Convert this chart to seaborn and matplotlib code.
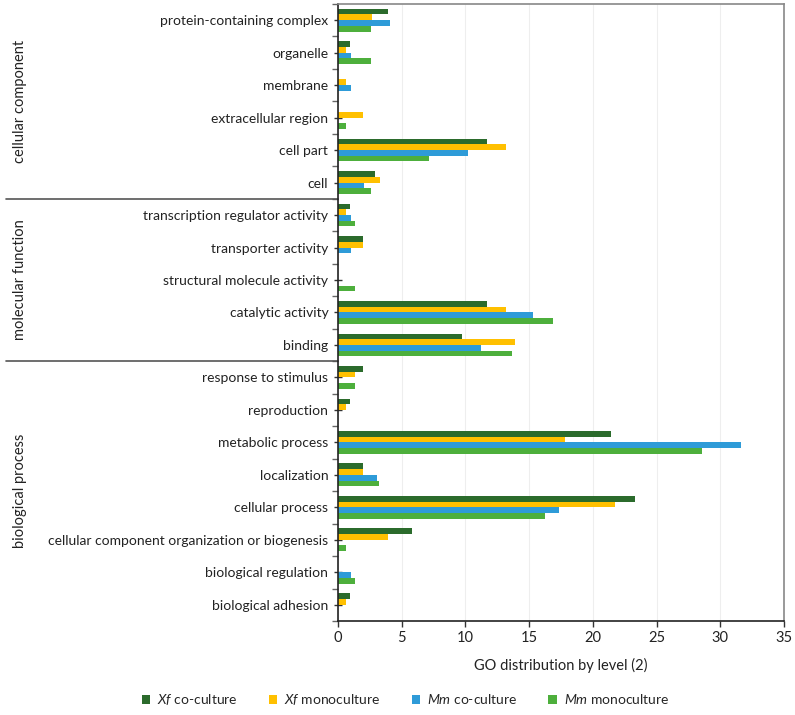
import matplotlib
matplotlib.use("Agg")
import matplotlib.pyplot as plt
import seaborn as sns
import pandas as pd
import numpy as np
from matplotlib.patches import Patch

categories = [
    "protein-containing complex", "organelle", "membrane", "extracellular region",
    "cell part", "cell", "transcription regulator activity", "transporter activity",
    "structural molecule activity", "catalytic activity", "binding",
    "response to stimulus", "reproduction", "metabolic process", "localization",
    "cellular process", "cellular component organization or biogenesis",
    "biological regulation", "biological adhesion",
]
series_names = ["Xf co-culture", "Xf monoculture", "Mm co-culture", "Mm monoculture"]
legend_labels = [r"$\it{Xf}$ co-culture", r"$\it{Xf}$ monoculture",
                 r"$\it{Mm}$ co-culture", r"$\it{Mm}$ monoculture"]

xf_co = [3.90, 0.97, 0.0, 0.0, 11.70, 2.92, 0.97, 1.94, 0.0, 11.70, 9.74,
         1.94, 0.97, 21.40, 1.94, 23.30, 5.83, 0.0, 0.97]
xf_mono = [2.64, 0.66, 0.66, 1.98, 13.20, 3.30, 0.66, 1.98, 0.0, 13.20, 13.86,
           1.32, 0.66, 17.80, 1.98, 21.70, 3.95, 0.0, 0.66]
mm_co = [4.08, 1.02, 1.02, 0.0, 10.20, 2.04, 1.02, 1.02, 0.0, 15.31, 11.22,
         0.0, 0.0, 31.63, 3.06, 17.35, 0.0, 1.02, 0.0]
mm_mono = [2.60, 2.60, 0.0, 0.65, 7.14, 2.60, 1.30, 0.0, 1.30, 16.88, 13.64,
           1.30, 0.0, 28.57, 3.25, 16.23, 0.65, 1.30, 0.0]

groups = ["cellular component", "molecular function", "biological process"]
group_sizes = [6, 5, 8]
x_ticks = [0, 5, 10, 15, 20, 25, 30, 35]
x_label = "GO distribution by level (2)"

colors = ["#2B6B2C", "#FFC000", "#2E9BD8", "#4DAF3C"]

rows = []
for name, vals in zip(series_names, [xf_co, xf_mono, mm_co, mm_mono]):
    for c, v in zip(categories, vals):
        rows.append({"category": c, "series": name, "value": v})
df = pd.DataFrame(rows)

sns.set_theme(style="white")
plt.rcParams["font.family"] = ["Lato", "DejaVu Sans"]
plt.rcParams["mathtext.fontset"] = "custom"
plt.rcParams["mathtext.it"] = "Lato:italic"
plt.rcParams["mathtext.rm"] = "Lato"

FS = 10
fig = plt.figure(figsize=(7.95, 7.15), dpi=100)
ax = fig.add_axes([0.4252, 0.1315, 0.561, 0.863])

sns.barplot(data=df, y="category", x="value", hue="series", order=categories,
            hue_order=series_names, palette=colors, orient="h", width=0.7,
            ax=ax, legend=False, saturation=1, linewidth=0)

ax.set_xlim(0, 35)
ax.set_ylim(len(categories) - 0.5, -0.5)
ax.set_xticks(x_ticks)
ax.set_xticklabels([str(t) for t in x_ticks], fontsize=FS + 0.5, color="#222222")
ax.set_xlabel(x_label, fontsize=FS + 0.5, color="#222222", labelpad=9)
ax.set_ylabel("")
ax.tick_params(axis="y", labelsize=FS, labelcolor="#222222", direction="inout",
               length=6, width=1, color="#333333", pad=4)
ax.tick_params(axis="x", direction="out", length=4, width=1, color="#333333", bottom=True)
ax.set_yticks(np.arange(len(categories) + 1) - 0.5, minor=True)
ax.tick_params(axis="y", which="minor", direction="out", length=4, width=1, color="#666666", left=True)
ax.tick_params(axis="y", which="major", left=True)

ax.grid(axis="x", color="#EEEEEE", linewidth=0.8)
ax.set_axisbelow(True)
for side in ["left", "bottom"]:
    ax.spines[side].set_color("#222222")
    ax.spines[side].set_linewidth(1.2)
for side in ["top", "right"]:
    ax.spines[side].set_visible(True)
    ax.spines[side].set_color("#888888")
    ax.spines[side].set_linewidth(1.2)

tr = ax.get_yaxis_transform()
start = 0
for g, n in zip(groups, group_sizes):
    center = start + (n - 1) / 2
    ax.text(-0.712, center, g, transform=tr, rotation=90, ha="center", va="center",
            fontsize=FS + 0.5, color="#222222")
    if start > 0:
        ax.plot([-0.745, 0], [start - 0.5, start - 0.5], transform=tr, color="#555555",
                linewidth=1.2, clip_on=False)
    start += n

handles = [Patch(facecolor=c, edgecolor="none") for c in colors]
fig.legend(handles, legend_labels, loc="center", bbox_to_anchor=(0.51, 0.0215), ncol=4,
           frameon=False, fontsize=FS, handlelength=0.6, handleheight=0.6,
           columnspacing=2.25, handletextpad=0.5, borderpad=0, borderaxespad=0)

fig.savefig("out.png", dpi=100)
